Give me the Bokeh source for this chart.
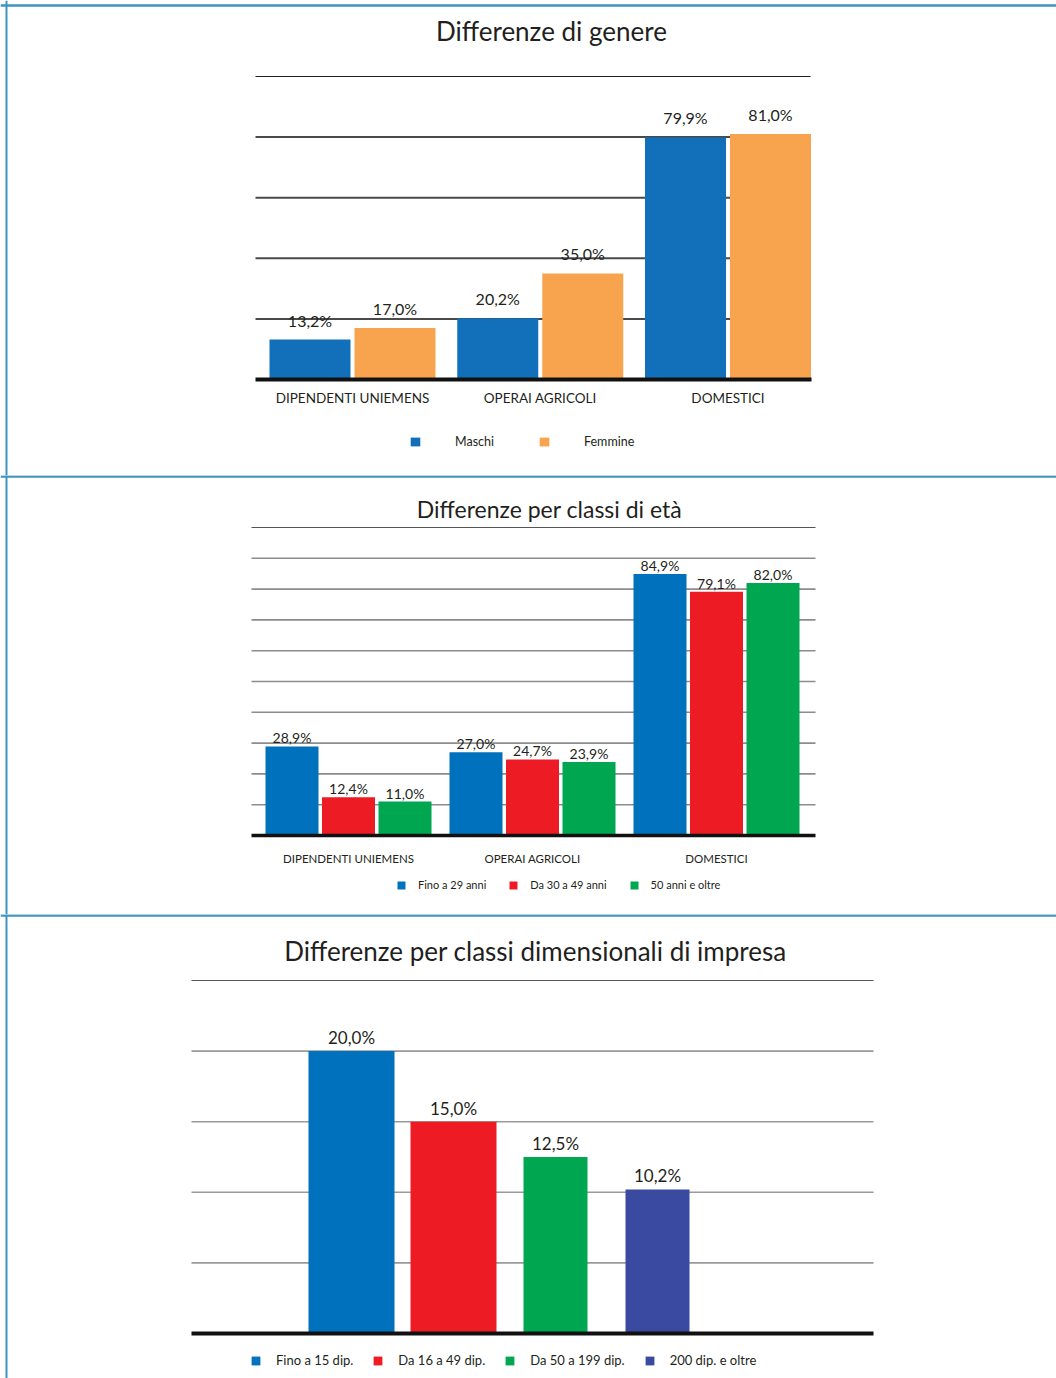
from bokeh.plotting import figure
from bokeh.layouts import column
from bokeh.models import (ColumnDataSource, Range1d, Span, Label, Legend, LegendItem)
from bokeh.transform import dodge
from bokeh.core.properties import value
from bokeh.embed import file_html
from bokeh.resources import INLINE

# ---------------- DATA ----------------
categories = ["DIPENDENTI UNIEMENS", "OPERAI AGRICOLI", "DOMESTICI"]

# Panel 1: gender
gender_series = ["Maschi", "Femmine"]
maschi = [13.2, 20.2, 79.9]
femmine = [17.0, 35.0, 81.0]

# Panel 2: age classes
age_series = ["Fino a 29 anni", "Da 30 a 49 anni", "50 anni e oltre"]
fino_29 = [28.9, 27.0, 84.9]
da_30_49 = [12.4, 24.7, 79.1]
oltre_50 = [11.0, 23.9, 82.0]

# Panel 3: company size classes
size_classes = ["Fino a 15 dip.", "Da 16 a 49 dip.", "Da 50 a 199 dip.", "200 dip. e oltre"]
size_values = [20.0, 15.0, 12.5, 10.2]

grid1_ticks = [20, 40, 60, 80]
grid1_top = 100
grid2_ticks = [10, 20, 30, 40, 50, 60, 70, 80, 90]
grid2_top = 100
grid3_ticks = [5, 10, 15, 20]
grid3_top = 25

titles = ["Differenze di genere", "Differenze per classi di età",
          "Differenze per classi dimensionali di impresa"]

# ---------------- STYLE ----------------
FONT = "Lato"
TXT = "#231F20"
BORDER = "#3E95BF"
W = 1056


def fmt(v):
    return f"{v:.1f}".replace(".", ",") + "%"


def base_fig(height, xr, yr, top_loc):
    p = figure(width=W, height=height, output_backend="svg", toolbar_location=None,
               x_range=Range1d(*xr), y_range=Range1d(*yr), min_border=0,
               background_fill_color="white", border_fill_color="white")
    p.axis.visible = False
    p.grid.visible = False
    p.outline_line_color = None
    p.add_layout(Span(location=top_loc, location_units="screen", dimension="width",
                      line_color=BORDER, line_width=2.5))
    p.add_layout(Span(location=6, location_units="screen", dimension="height",
                      line_color=BORDER, line_width=2))
    return p


def add_title(p, text, x, y, size):
    p.add_layout(Label(x=x, y=y, x_units="screen", y_units="screen", text=text,
                       text_align="center", text_baseline="middle",
                       text_font=FONT, text_font_size=size, text_color=TXT))


def add_grid(p, ticks, top, xl, xr, color, width, top_color, top_width):
    n = len(ticks)
    p.segment(x0=[xl] * n, x1=[xr] * n, y0=ticks, y1=ticks, line_color=color, line_width=width)
    p.segment(x0=[xl], x1=[xr], y0=[top], y1=[top], line_color=top_color, line_width=top_width)


def style_legend(lg, x, y, size, gw, gh, standoff, spacing):
    lg.location = (x, y)
    lg.orientation = "horizontal"
    lg.border_line_color = None
    lg.background_fill_alpha = 0
    lg.padding = 0
    lg.margin = 0
    lg.spacing = spacing
    lg.label_standoff = standoff
    lg.glyph_width = gw
    lg.glyph_height = gh
    lg.label_height = gh
    lg.label_width = 10
    lg.label_text_font = FONT
    lg.label_text_font_size = size
    lg.label_text_color = TXT
    lg.label_text_baseline = "middle"


# ================= PANEL 1 =================
H1 = 475
u1 = 187.75
s1 = -352 / u1
px1 = 3.03
p1 = base_fig(H1, (s1, s1 + W / u1), (-(H1 - 379) / px1, 379 / px1), H1 - 5)
add_title(p1, titles[0], 551, H1 - 30, "26px")

xl1, xr1 = s1 + 255 / u1, s1 + 810 / u1
add_grid(p1, grid1_ticks, grid1_top, xl1, xr1, "#4A4A4A", 2, "#222222", 1.2)

src1 = ColumnDataSource(dict(x=list(range(len(categories))), cat=categories,
                             m=maschi, f=femmine,
                             ml=[fmt(v) for v in maschi], fl=[fmt(v) for v in femmine]))
bw1 = 81 / u1
off1 = 42.5 / u1
r_m = p1.vbar(x=dodge("x", -off1), top="m", width=bw1, source=src1,
              fill_color="#1170B9", line_color=None)
r_f = p1.vbar(x=dodge("x", off1), top="f", width=bw1, source=src1,
              fill_color="#F8A44E", line_color=None)
p1.segment(x0=[xl1], x1=[s1 + 811 / u1], y0=[0], y1=[0], line_color="#111111", line_width=4)
for col, o in (("ml", -off1), ("fl", off1)):
    p1.text(x=dodge("x", o), y=col[0], text=col, source=src1, text_align="center",
            text_baseline="bottom", y_offset=-10, text_font=value(FONT),
            text_font_size="16px", text_color=TXT)
p1.text(x="x", y=0, text="cat", source=src1, text_align="center", text_baseline="middle",
        y_offset=18, text_font=value(FONT), text_font_size="13.5px", text_color=TXT)
lg1 = Legend(items=[LegendItem(label=gender_series[0], renderers=[r_m]),
                    LegendItem(label=gender_series[1], renderers=[r_f])])
style_legend(lg1, 409, 26, "12.5px", 12, 11, 34, 44)
p1.add_layout(lg1)

# ================= PANEL 2 =================
H2 = 439
T2 = 475
u2 = 184.0
s2 = -348 / u2
px2 = 3.08
p2 = base_fig(H2, (s2, s2 + W / u2), (-(T2 + H2 - 835) / px2, (835 - T2) / px2), H2 - 1)
add_title(p2, titles[1], 549, H2 - (508 - T2), "23px")

xl2, xr2 = s2 + 251 / u2, s2 + 815 / u2
add_grid(p2, grid2_ticks, grid2_top, xl2, xr2, "#8C8C8C", 1.6, "#555555", 1.2)

src2 = ColumnDataSource(dict(x=list(range(len(categories))), cat=categories,
                             a=fino_29, b=da_30_49, c=oltre_50,
                             al=[fmt(v) for v in fino_29], bl=[fmt(v) for v in da_30_49],
                             cl=[fmt(v) for v in oltre_50]))
bw2 = 53 / u2
off2 = 56.5 / u2
age_colors = ["#0071BC", "#ED1C24", "#00A650"]
rs2 = []
for key, o, c in (("a", -off2, age_colors[0]), ("b", 0, age_colors[1]), ("c", off2, age_colors[2])):
    rs2.append(p2.vbar(x=dodge("x", o), top=key, width=bw2, source=src2,
                       fill_color=c, line_color=None))
p2.segment(x0=[xl2], x1=[xr2], y0=[0], y1=[0], line_color="#111111", line_width=3.5)
for key, o in (("al", -off2), ("bl", 0), ("cl", off2)):
    p2.text(x=dodge("x", o), y=key[0], text=key, source=src2, text_align="center",
            text_baseline="bottom", y_offset=0, text_font=value(FONT),
            text_font_size="14px", text_color=TXT)
p2.text(x="x", y=0, text="cat", source=src2, text_align="center", text_baseline="middle",
        y_offset=23, text_font=value(FONT), text_font_size="11.5px", text_color=TXT)
lg2 = Legend(items=[LegendItem(label=age_series[i], renderers=[rs2[i]]) for i in range(3)])
style_legend(lg2, 396, 23, "11px", 10, 10, 12, 22)
p2.add_layout(lg2)

# ================= PANEL 3 =================
H3 = 464
T3 = 914
u3 = 102.0
s3 = -351 / u3
px3 = 14.12
p3 = base_fig(H3, (s3, s3 + W / u3), (-(T3 + H3 - 1333) / px3, (1333 - T3) / px3), H3 - 1)
add_title(p3, titles[2], 535, H3 - (950 - T3), "26px")

xl3, xr3 = s3 + 191 / u3, s3 + 873 / u3
add_grid(p3, grid3_ticks, grid3_top, xl3, xr3, "#9A9A9A", 1.6, "#555555", 1.2)

size_colors = ["#0071BC", "#ED1C24", "#00A650", "#3A4AA0"]
bar_w3 = [86 / u3, 86 / u3, 64 / u3, 64 / u3]
src3 = ColumnDataSource(dict(x=list(range(len(size_classes))), v=size_values,
                             lab=[fmt(v) for v in size_values], color=size_colors,
                             w=bar_w3, name=size_classes))
r3 = p3.vbar(x="x", top="v", width="w", source=src3, fill_color="color", line_color=None)
p3.segment(x0=[xl3], x1=[xr3], y0=[0], y1=[0], line_color="#111111", line_width=4)
p3.text(x="x", y="v", text="lab", source=src3, text_align="center", text_baseline="bottom",
        y_offset=-3, text_font=value(FONT), text_font_size="17px", text_color=TXT)
lg3 = Legend(items=[LegendItem(label=size_classes[i], renderers=[r3], index=i)
                    for i in range(len(size_classes))])
style_legend(lg3, 250, 10, "13px", 11, 11, 15, 19)
p3.add_layout(lg3)

layout = column(p1, p2, p3, spacing=0)
open("out.html", "w").write(file_html(layout, INLINE))
